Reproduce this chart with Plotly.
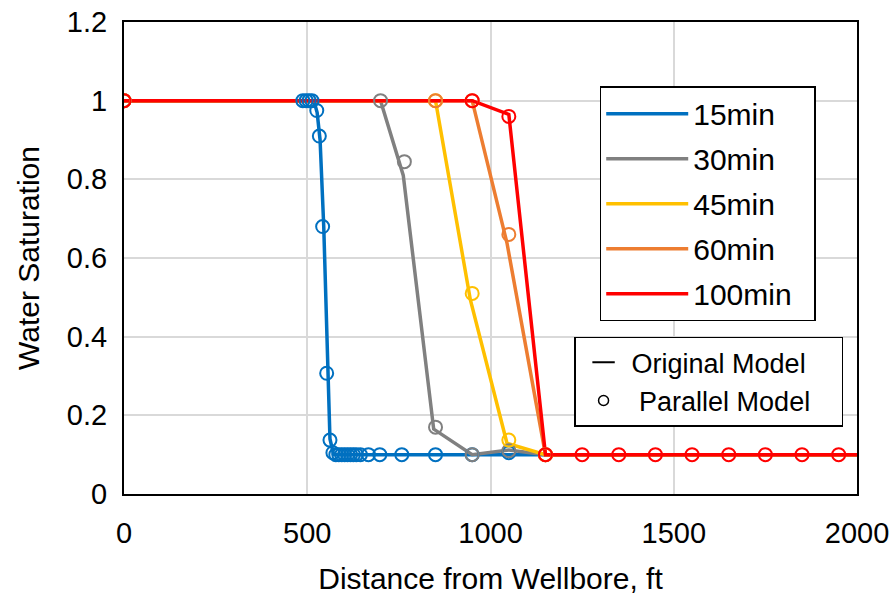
import plotly.graph_objects as go

# Original model: water saturation profiles (lines)
labels = ["15min", "30min", "45min", "60min", "100min"]
colors = ["#0070C0", "#808080", "#FFC000", "#ED7D31", "#FF0000"]

orig_x = [
    [0, 518, 527, 535, 545, 556, 562, 572, 600, 1150, 2000],
    [0, 700, 762, 845, 950, 1050, 1150, 2000],
    [0, 850, 945, 1045, 1150, 2000],
    [0, 950, 1045, 1150, 2000],
    [0, 950, 1050, 1150, 2000],
]
orig_y = [
    [1, 1, 0.97, 0.9, 0.68, 0.3, 0.14, 0.1, 0.1, 0.1, 0.1],
    [1, 1, 0.81, 0.165, 0.1, 0.112, 0.1, 0.1],
    [1, 1, 0.494, 0.129, 0.1, 0.1],
    [1, 1, 0.638, 0.1, 0.1],
    [1, 1, 0.965, 0.1, 0.1],
]

# Parallel model: water saturation at grid blocks (open circles)
par_x = [
    [0, 488, 497, 505, 513, 526, 533, 542, 553, 562, 570, 578, 586, 594,
     602, 610, 618, 626, 634, 645, 667, 698, 758, 850, 950, 1050],
    [0, 700, 765, 850, 950, 1050, 1150],
    [0, 850, 950, 1050, 1150],
    [0, 850, 950, 1050, 1150],
    [0, 950, 1050, 1150, 1250, 1350, 1450, 1550, 1650, 1750, 1850, 1950],
]
par_y = [
    [1, 1, 1, 1, 1, 0.975, 0.91, 0.68, 0.307, 0.137, 0.105, 0.1, 0.1, 0.1,
     0.1, 0.1, 0.1, 0.1, 0.1, 0.1, 0.1, 0.1, 0.1, 0.1, 0.1, 0.105],
    [1, 1, 0.845, 0.17, 0.1, 0.11, 0.1],
    [1, 1, 0.51, 0.137, 0.1],
    [1, 1, 1, 0.66, 0.1],
    [1, 1, 0.96, 0.1, 0.1, 0.1, 0.1, 0.1, 0.1, 0.1, 0.1, 0.1],
]

x_ticks = [0, 500, 1000, 1500, 2000]
y_ticks = [0, 0.2, 0.4, 0.6, 0.8, 1, 1.2]

FONT = "Liberation Sans, Arial, sans-serif"
PAD = "\u00a0"

fig = go.Figure()

for i, lab in enumerate(labels):
    fig.add_trace(go.Scatter(
        x=orig_x[i], y=orig_y[i], mode="lines", name=lab + PAD * 2,
        line=dict(color=colors[i], width=3.5),
        legend="legend", legendgroup=lab, showlegend=True,
    ))

for i, lab in enumerate(labels):
    fig.add_trace(go.Scatter(
        x=par_x[i], y=par_y[i], mode="markers", name=lab + " (parallel)",
        marker=dict(symbol="circle-open", size=13, color=colors[i],
                    line=dict(width=2, color=colors[i])),
        showlegend=False,
    ))

# Model-type key
fig.add_trace(go.Scatter(
    x=[None], y=[None], mode="markers", name="Original Model" + PAD * 4,
    marker=dict(symbol="line-ew-open", size=16, color="black",
                line=dict(width=2, color="black")),
    legend="legend2", legendgroup="orig",
))
fig.add_trace(go.Scatter(
    x=[None], y=[None], mode="markers", name=PAD + "Parallel Model" + PAD * 3,
    marker=dict(symbol="circle-open", size=10, color="black",
                line=dict(width=1.5, color="black")),
    legend="legend2", legendgroup="par",
))

fig.update_layout(
    width=896, height=596,
    margin=dict(l=124, r=39, t=22, b=102),
    paper_bgcolor="white", plot_bgcolor="white",
    font=dict(family=FONT, size=30, color="black"),
    xaxis=dict(
        range=[0, 2000], tickvals=x_ticks, ticktext=[str(v) for v in x_ticks],
        showgrid=True, gridcolor="#d9d9d9", gridwidth=1.5,
        showline=True, linecolor="black", linewidth=2, mirror=True,
        zeroline=False, ticks="", ticklen=0, ticklabelstandoff=12,
        tickfont=dict(size=29, family=FONT), automargin=False,
        title=dict(text="Distance from Wellbore, ft", font=dict(size=30, family=FONT), standoff=20),
    ),
    yaxis=dict(
        range=[0, 1.2], tickvals=y_ticks, ticktext=["0", "0.2", "0.4", "0.6", "0.8", "1", "1.2"],
        showgrid=True, gridcolor="#d9d9d9", gridwidth=1.5,
        showline=True, linecolor="black", linewidth=2, mirror=True,
        zeroline=False, ticks="", ticklen=0, ticklabelstandoff=9,
        tickfont=dict(size=29, family=FONT), automargin=False,
        title=dict(text="Water Saturation", font=dict(size=30, family=FONT), standoff=18),
    ),
    legend=dict(
        x=0.649, y=0.864, xanchor="left", yanchor="top",
        bgcolor="white", bordercolor="black", borderwidth=1.5,
        font=dict(size=30, family=FONT), tracegroupgap=3,
        itemwidth=82,
    ),
    legend2=dict(
        x=0.614, y=0.333, xanchor="left", yanchor="top",
        bgcolor="white", bordercolor="black", borderwidth=1.5,
        font=dict(size=27, family=FONT), tracegroupgap=0,
        itemwidth=46,
    ),
)

fig.write_html("out.html")
